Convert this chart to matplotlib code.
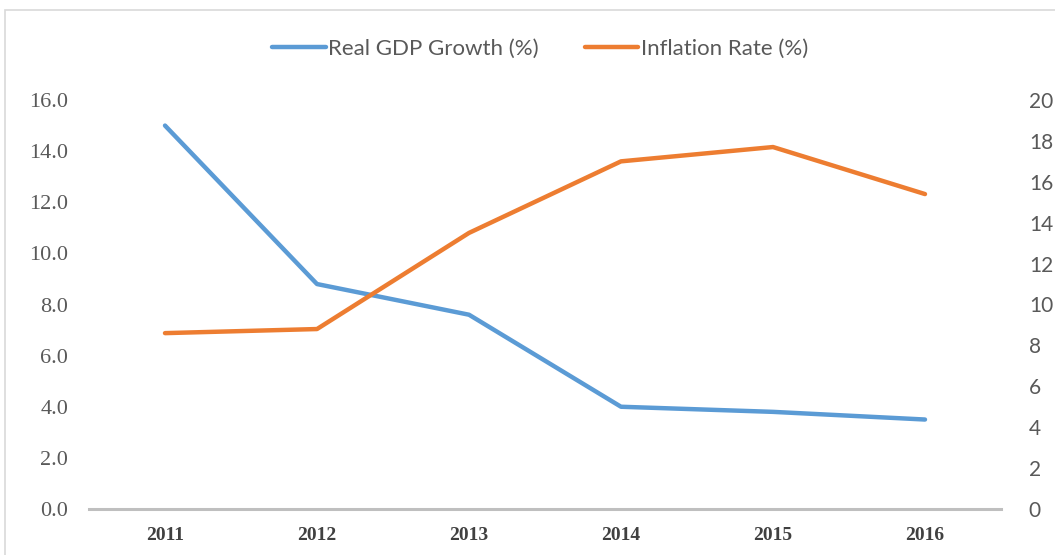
import numpy as np
import matplotlib.pyplot as plt
from matplotlib.patches import Rectangle
from matplotlib.lines import Line2D

# --- data ---
years = ["2011", "2012", "2013", "2014", "2015", "2016"]
gdp_growth = [15.0, 8.8, 7.6, 4.0, 3.8, 3.5]        # left axis
inflation = [8.6, 8.8, 13.5, 17.0, 17.7, 15.4]      # right axis

BLUE = "#5B9BD5"
ORANGE = "#ED7D31"
TXT = "#595959"
AXIS_GREY = "#BFBFBF"

fig = plt.figure(figsize=(10.55, 5.55), dpi=100)
fig.patch.set_facecolor("white")

# chart frame (light border, cropped at top/right like the source)
fig.patches.append(Rectangle((5 / 1055, -0.01), 1.1, (555 - 10) / 555 + 0.01,
                             transform=fig.transFigure, fill=False,
                             edgecolor="#D9D9D9", linewidth=1.2))

ax = fig.add_axes([89 / 1055, (555 - 509) / 555, (1001 - 89) / 1055, 409 / 555])
x = np.arange(len(years))
ax.plot(x, gdp_growth, color=BLUE, linewidth=3.2, solid_capstyle="round")
ax.set_xlim(-0.5, len(years) - 0.5)
ax.set_ylim(0, 16)
ax.set_yticks(np.arange(0, 16.1, 2))
ax.set_yticklabels([f"{v:.1f}" for v in np.arange(0, 16.1, 2)],
                   fontfamily="Liberation Serif", fontsize=16, color=TXT)
ax.set_xticks(x)
ax.set_xticklabels(years, fontfamily="Liberation Serif", fontweight="bold",
                   fontsize=14, color="#404040")
ax.tick_params(axis="both", length=0)
ax.tick_params(axis="y", pad=15)
ax.tick_params(axis="x", pad=13)
for s in ["top", "right", "left"]:
    ax.spines[s].set_visible(False)
ax.spines["bottom"].set_color(AXIS_GREY)
ax.spines["bottom"].set_linewidth(2.2)

ax2 = ax.twinx()
ax2.plot(x, inflation, color=ORANGE, linewidth=3.2, solid_capstyle="round")
ax2.set_ylim(0, 20)
ax2.set_yticks(np.arange(0, 21, 2))
ax2.set_yticklabels([str(v) for v in range(0, 21, 2)],
                    fontfamily="Lato", fontsize=15, color=TXT)
ax2.tick_params(axis="y", length=0, pad=20)
for s in ["top", "right", "left", "bottom"]:
    ax2.spines[s].set_visible(False)

handles = [Line2D([], [], color=BLUE, linewidth=3.2, solid_capstyle="round"),
           Line2D([], [], color=ORANGE, linewidth=3.2, solid_capstyle="round")]
leg = fig.legend(handles, ["Real GDP Growth (%)", "Inflation Rate (%)"],
                 loc="center", bbox_to_anchor=(540 / 1055, 1 - 49 / 555),
                 ncol=2, frameon=False, handlelength=2.4, handletextpad=0.1,
                 columnspacing=2.1, prop={"family": "Lato", "size": 16})
for t in leg.get_texts():
    t.set_color(TXT)

fig.savefig("out.png", dpi=100, facecolor="white")
